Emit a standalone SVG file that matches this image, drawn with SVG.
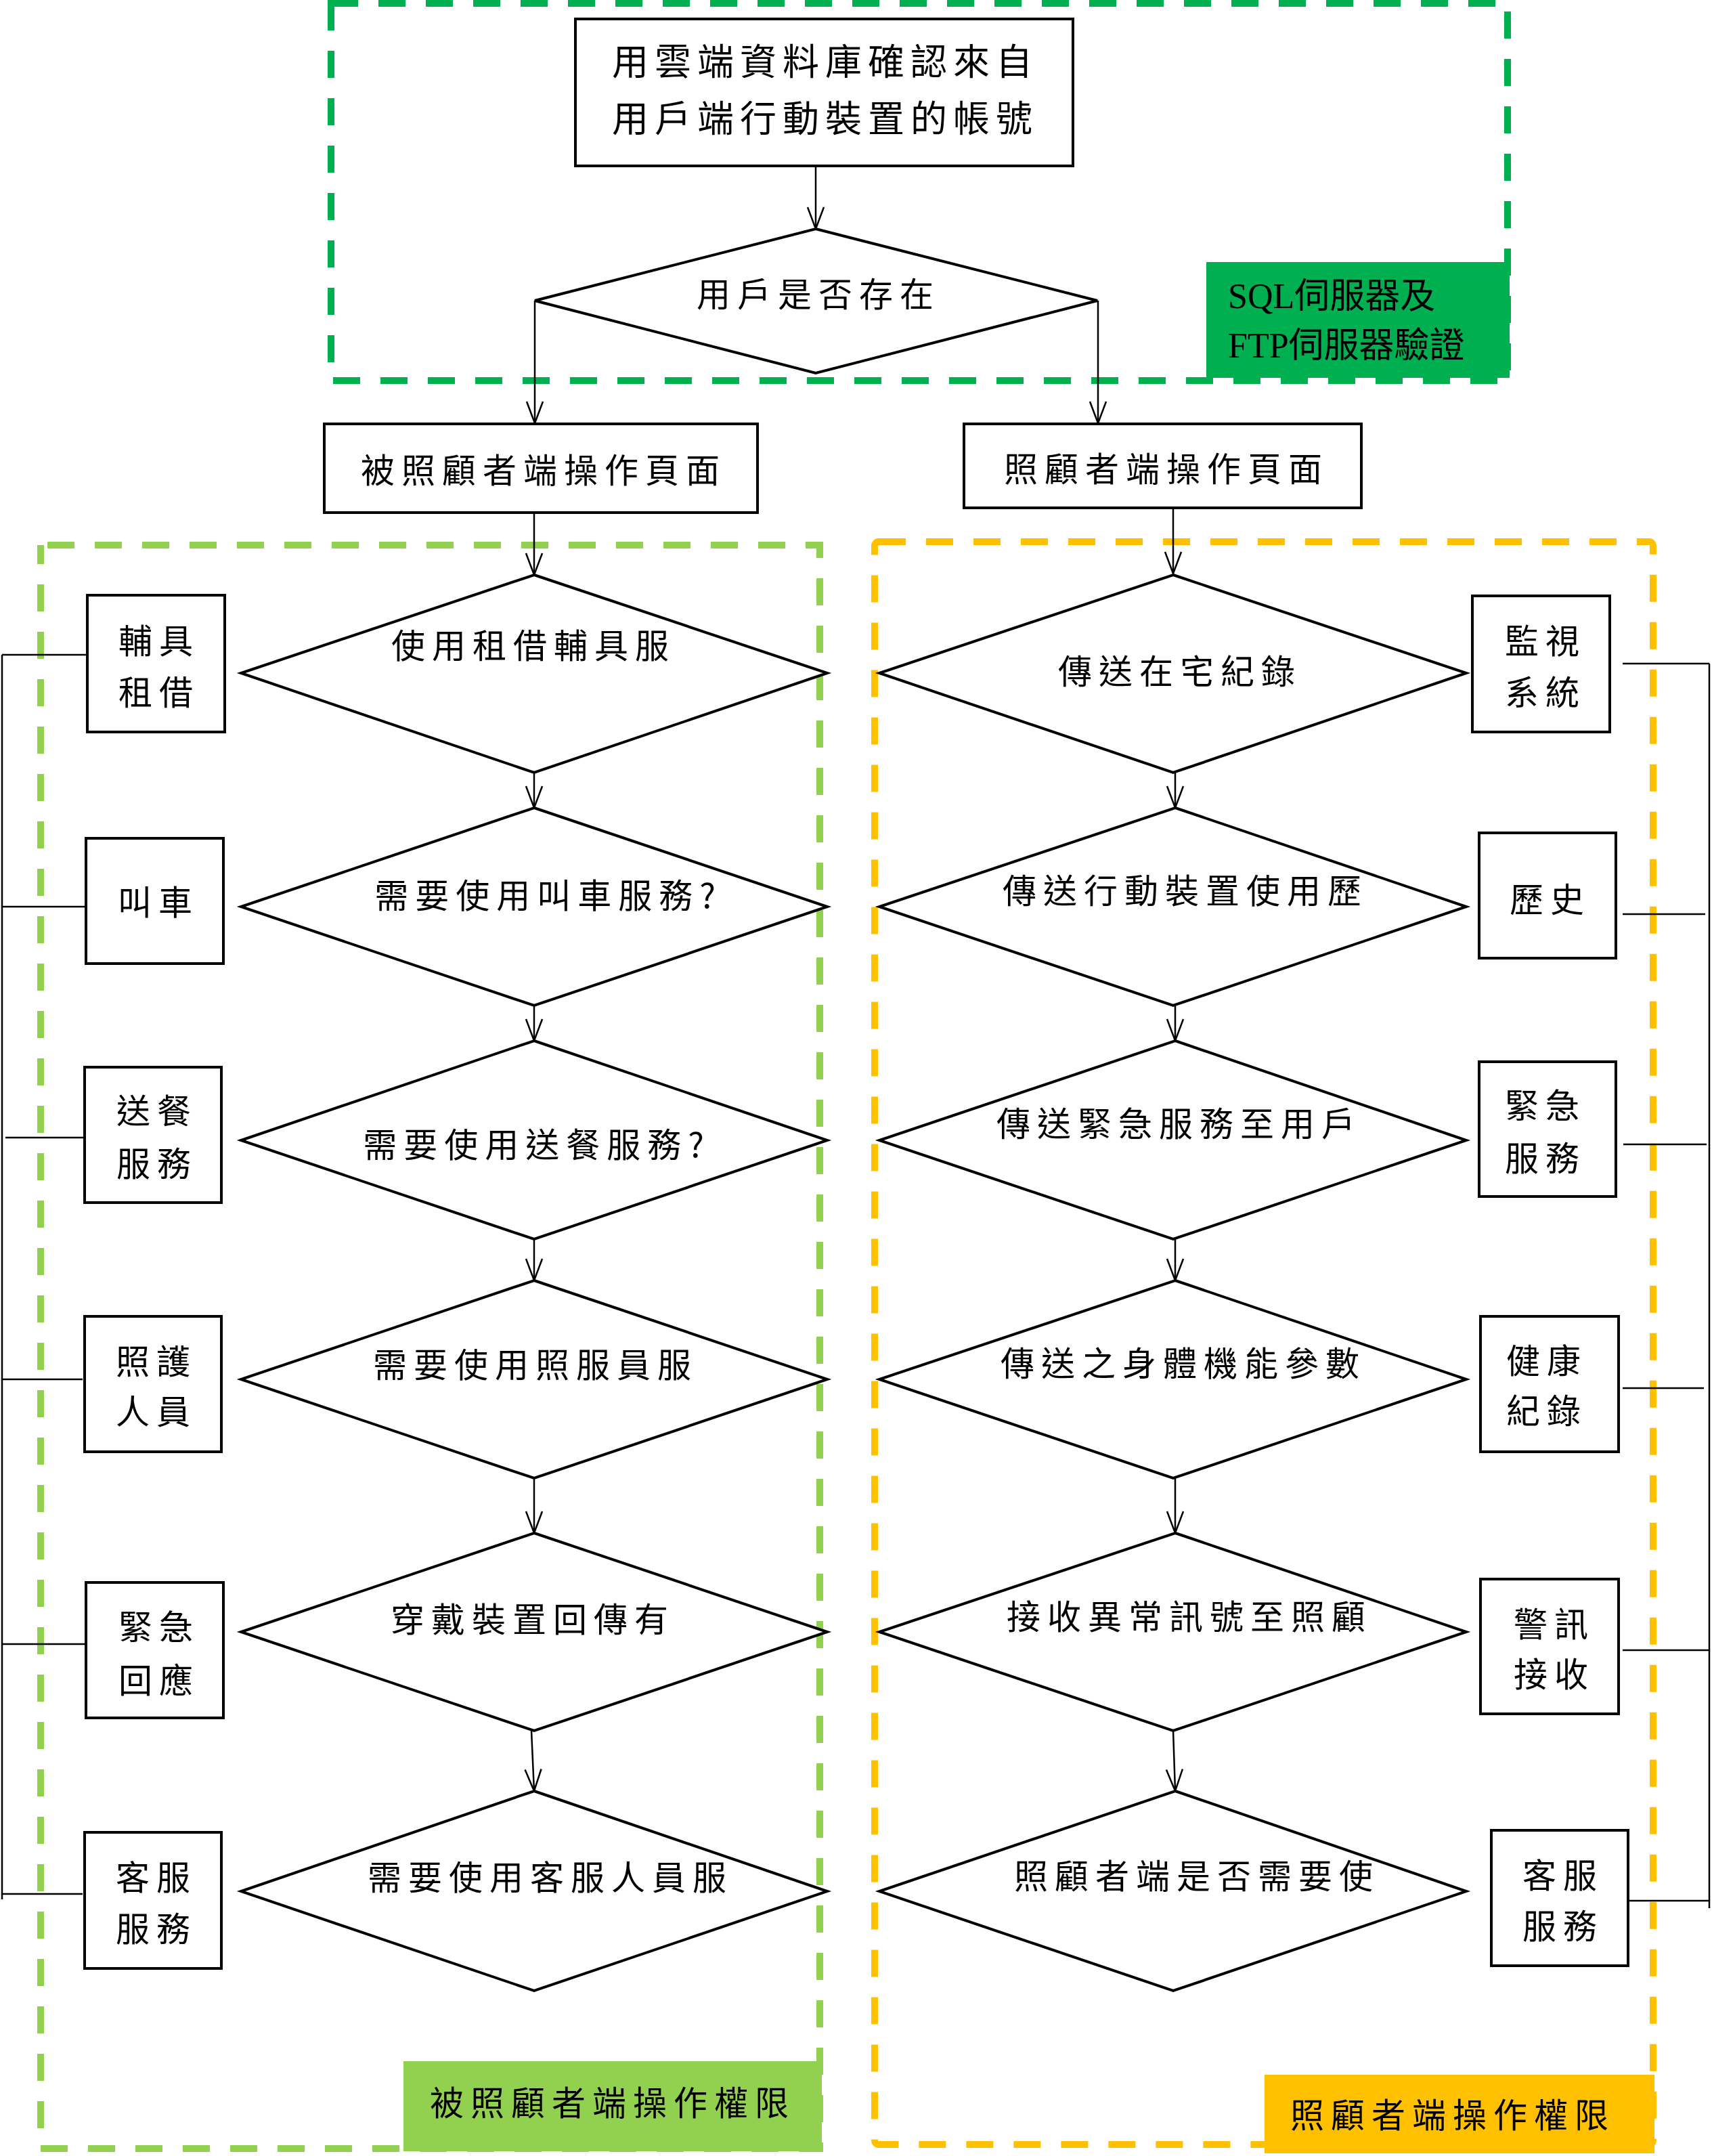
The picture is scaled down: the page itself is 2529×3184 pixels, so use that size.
<svg xmlns="http://www.w3.org/2000/svg" width="2529" height="3184" viewBox="0 0 2529 3184">
<defs>
<style>
.bg{fill:#fff}
.box{fill:#fff;stroke:#000;stroke-width:4}
.dia{fill:#fff;stroke:#000;stroke-width:4}
.ln{fill:none;stroke:#000;stroke-width:2.5}
.t{font-family:"Noto Sans CJK TC","Noto Sans CJK SC",sans-serif;font-size:50px;letter-spacing:10px;fill:#000;text-anchor:middle;dominant-baseline:central}
.tb{font-size:54px;letter-spacing:9px}
.sq{font-family:"Liberation Serif","Noto Sans CJK TC",serif;font-size:52px;fill:#000;dominant-baseline:central}
.dg{fill:none;stroke:#00B050;stroke-width:10;stroke-dasharray:40 30}
.lg{fill:none;stroke:#92D050;stroke-width:10;stroke-dasharray:40 30;stroke-dashoffset:-10}
.og{fill:none;stroke:#FFC000;stroke-width:10;stroke-dasharray:40 30;stroke-linejoin:round}
</style>
<marker id="arr" markerUnits="userSpaceOnUse" markerWidth="40" markerHeight="30" refX="32" refY="12" orient="auto" overflow="visible">
<path d="M0,0 L32,12 L0,24" fill="none" stroke="#000" stroke-width="2.5"/>
</marker>
</defs>
<rect class="bg" x="0" y="0" width="2529" height="3184"/>

<g id="regions">
<rect class="dg" x="489" y="5" width="1738" height="557"/>
<rect class="lg" x="60" y="805" width="1151" height="2368"/>
<rect class="og" x="1292" y="800" width="1150" height="2367" rx="6"/>
</g>

<g id="connectors">
<line class="ln" x1="1205" y1="245" x2="1205" y2="338" marker-end="url(#arr)"/>
<line class="ln" x1="790" y1="444" x2="790" y2="625" marker-end="url(#arr)"/>
<line class="ln" x1="1622" y1="444" x2="1622" y2="625" marker-end="url(#arr)"/>
<line class="ln" x1="789" y1="758" x2="789" y2="849" marker-end="url(#arr)"/>
<line class="ln" x1="1733" y1="750" x2="1733" y2="847" marker-end="url(#arr)"/>
<line class="ln" x1="789" y1="1141" x2="789" y2="1193" marker-end="url(#arr)"/>
<line class="ln" x1="789" y1="1485" x2="789" y2="1537" marker-end="url(#arr)"/>
<line class="ln" x1="789" y1="1830" x2="789" y2="1891" marker-end="url(#arr)"/>
<line class="ln" x1="789" y1="2183" x2="789" y2="2264" marker-end="url(#arr)"/>
<line class="ln" x1="785" y1="2556" x2="789" y2="2645" marker-end="url(#arr)"/>
<line class="ln" x1="1736" y1="1141" x2="1736" y2="1193" marker-end="url(#arr)"/>
<line class="ln" x1="1736" y1="1485" x2="1736" y2="1537" marker-end="url(#arr)"/>
<line class="ln" x1="1736" y1="1830" x2="1736" y2="1891" marker-end="url(#arr)"/>
<line class="ln" x1="1736" y1="2183" x2="1736" y2="2264" marker-end="url(#arr)"/>
<line class="ln" x1="1733" y1="2556" x2="1736" y2="2645" marker-end="url(#arr)"/>
<path class="ln" d="M3,967 V2805 M3,967 H129 M3,1339 H127 M8,1680 H125 M3,2037 H122 M3,2428 H131 M3,2797 H122"/>
<path class="ln" d="M2525,980 V2818 M2397,980 H2525 M2397,1350 H2519 M2398,1690 H2521 M2397,2050 H2517 M2397,2437 H2525 M2400,2807 H2525"/>
</g>

<g id="n-top">
<rect class="box" x="850" y="28" width="735" height="217"/>
<text class="t tb" x="1219" y="87">用雲端資料庫確認來自</text>
<text class="t tb" x="1219" y="171">用戶端行動裝置的帳號</text>
</g>
<g id="n-exist">
<polygon class="dia" points="1205,338 1621,444 1205,551 790,444"/>
<text class="t" x="1209" y="431">用戶是否存在</text>
</g>
<g id="n-sql">
<rect x="1782" y="387" width="448" height="171" fill="#00B050"/>
<text class="sq" x="1814" y="437">SQL伺服器及</text>
<text class="sq" x="1814" y="510">FTP伺服器驗證</text>
</g>
<g id="n-cared-page">
<rect class="box" x="479" y="626" width="640" height="131"/>
<text class="t" x="803" y="691">被照顧者端操作頁面</text>
</g>
<g id="n-carer-page">
<rect class="box" x="1424" y="626" width="587" height="124"/>
<text class="t" x="1723" y="689">照顧者端操作頁面</text>
</g>

<g id="n-L1"><polygon class="dia" points="789,849 1222,994 789,1141 356,994"/><text class="t" x="788" y="950">使用租借輔具服</text></g>
<g id="n-L2"><polygon class="dia" points="789,1193 1222,1339 789,1485 356,1339"/><text class="t" x="810" y="1319">需要使用叫車服務?</text></g>
<g id="n-L3"><polygon class="dia" points="789,1537 1222,1684 789,1830 356,1684"/><text class="t" x="793" y="1687">需要使用送餐服務?</text></g>
<g id="n-L4"><polygon class="dia" points="789,1891 1222,2037 789,2183 356,2037"/><text class="t" x="791" y="2012">需要使用照服員服</text></g>
<g id="n-L5"><polygon class="dia" points="789,2264 1222,2410 789,2556 356,2410"/><text class="t" x="787" y="2388">穿戴裝置回傳有</text></g>
<g id="n-L6"><polygon class="dia" points="789,2645 1222,2793 789,2940 356,2793"/><text class="t" x="813" y="2769">需要使用客服人員服</text></g>

<g id="n-R1"><polygon class="dia" points="1733,849 2166,994 1733,1141 1299,994"/><text class="t" x="1743" y="988">傳送在宅紀錄</text></g>
<g id="n-R2"><polygon class="dia" points="1736,1193 2166,1339 1733,1485 1299,1339"/><text class="t" x="1751" y="1312">傳送行動裝置使用歷</text></g>
<g id="n-R3"><polygon class="dia" points="1736,1537 2166,1684 1733,1830 1299,1684"/><text class="t" x="1742" y="1656">傳送緊急服務至用戶</text></g>
<g id="n-R4"><polygon class="dia" points="1736,1891 2166,2037 1733,2183 1299,2037"/><text class="t" x="1748" y="2010">傳送之身體機能參數</text></g>
<g id="n-R5"><polygon class="dia" points="1736,2264 2166,2410 1733,2556 1299,2410"/><text class="t" x="1757" y="2384">接收異常訊號至照顧</text></g>
<g id="n-R6"><polygon class="dia" points="1736,2645 2166,2793 1733,2940 1299,2793"/><text class="t" x="1768" y="2767">照顧者端是否需要使</text></g>

<g id="n-b1"><rect class="box" x="129" y="879" width="203" height="202"/><text class="t" x="235" y="943">輔具</text><text class="t" x="235" y="1019">租借</text></g>
<g id="n-b2"><rect class="box" x="127" y="1238" width="203" height="185"/><text class="t" x="234" y="1329">叫車</text></g>
<g id="n-b3"><rect class="box" x="125" y="1576" width="202" height="200"/><text class="t" x="232" y="1637">送餐</text><text class="t" x="232" y="1715">服務</text></g>
<g id="n-b4"><rect class="box" x="125" y="1944" width="202" height="200"/><text class="t" x="231" y="2007">照護</text><text class="t" x="231" y="2081">人員</text></g>
<g id="n-b5"><rect class="box" x="127" y="2337" width="203" height="200"/><text class="t" x="235" y="2399">緊急</text><text class="t" x="235" y="2478">回應</text></g>
<g id="n-b6"><rect class="box" x="125" y="2706" width="202" height="201"/><text class="t" x="231" y="2769">客服</text><text class="t" x="231" y="2845">服務</text></g>

<g id="n-r1"><rect class="box" x="2175" y="880" width="203" height="201"/><text class="t" x="2283" y="943">監視</text><text class="t" x="2283" y="1019">系統</text></g>
<g id="n-r2"><rect class="box" x="2185" y="1230" width="202" height="185"/><text class="t" x="2290" y="1325">歷史</text></g>
<g id="n-r3"><rect class="box" x="2185" y="1568" width="202" height="199"/><text class="t" x="2283" y="1629">緊急</text><text class="t" x="2283" y="1707">服務</text></g>
<g id="n-r4"><rect class="box" x="2187" y="1944" width="204" height="200"/><text class="t" x="2285" y="2006">健康</text><text class="t" x="2285" y="2080">紀錄</text></g>
<g id="n-r5"><rect class="box" x="2187" y="2332" width="204" height="199"/><text class="t" x="2296" y="2395">警訊</text><text class="t" x="2296" y="2469">接收</text></g>
<g id="n-r6"><rect class="box" x="2203" y="2703" width="202" height="200"/><text class="t" x="2309" y="2766">客服</text><text class="t" x="2309" y="2841">服務</text></g>

<g id="n-label-cared">
<rect x="596" y="3044" width="618" height="133" fill="#92D050"/>
<text class="t" x="905" y="3102">被照顧者端操作權限</text>
</g>
<g id="n-label-carer">
<rect x="1868" y="3064" width="576" height="116" fill="#FFC000"/>
<text class="t" x="2146" y="3120">照顧者端操作權限</text>
</g>
</svg>
